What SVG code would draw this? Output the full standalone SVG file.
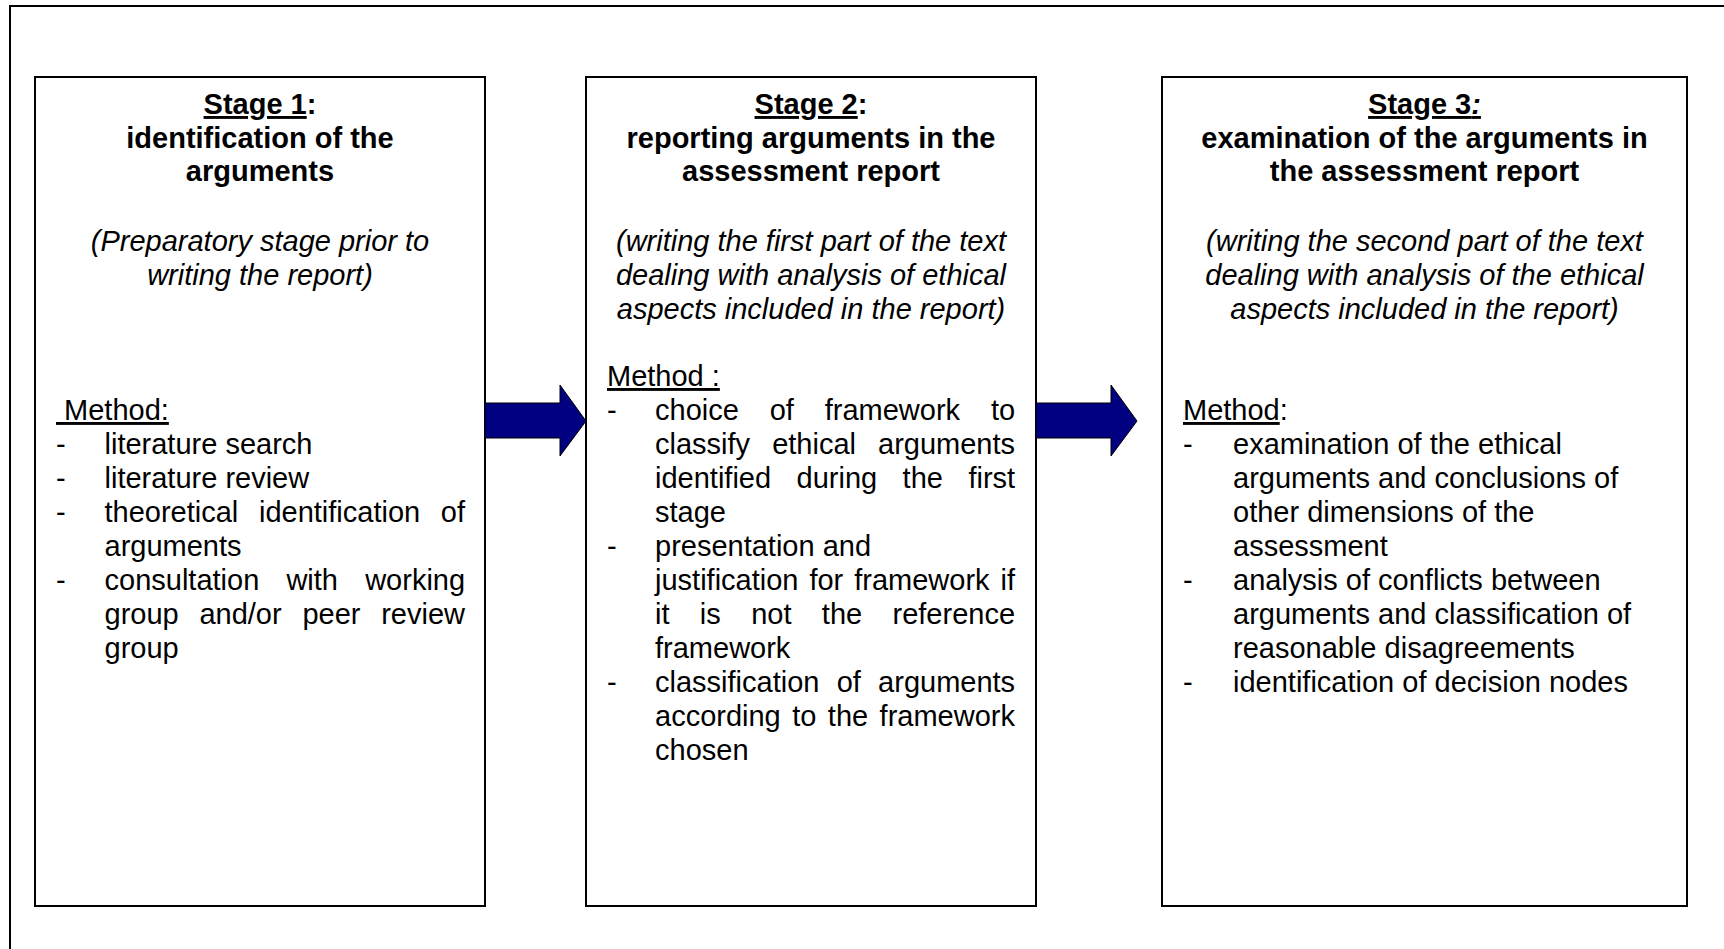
<svg xmlns="http://www.w3.org/2000/svg" width="1724" height="949" viewBox="0 0 1724 949">
<style>
  text { font-family: "Liberation Sans", Arial, sans-serif; font-size: 29px; fill: #000; }
  .title { font-weight: bold; text-anchor: middle; }
  .sub { font-style: italic; text-anchor: middle; }
  .u { text-decoration: underline; }
  .box { fill: #fff; stroke: #000; stroke-width: 2; }
  .frame { stroke: #000; stroke-width: 2; fill: none; }
  .arrow { fill: #000080; stroke: #000; stroke-width: 1; stroke-linejoin: miter; }
</style>
<rect x="0" y="0" width="1724" height="949" fill="#fff"/>
<g id="frame">
  <path class="frame" d="M10,949 L10,6 L1724,6"/>
</g>

<g id="stage1">
  <rect class="box" x="35" y="77" width="450" height="829"/>
  <text class="title" x="260" y="114"><tspan class="u">Stage 1</tspan>:</text>
  <text class="title" x="260" y="148">identification of the</text>
  <text class="title" x="260" y="181">arguments</text>
  <text class="sub" x="260" y="251">(Preparatory stage prior to</text>
  <text class="sub" x="260" y="285">writing the report)</text>
  <text x="56" y="420" xml:space="preserve"><tspan class="u"> Method:</tspan></text>
  <text x="56" y="454">-</text><text x="104.5" y="454">literature search</text>
  <text x="56" y="488">-</text><text x="104.5" y="488">literature review</text>
  <text x="56" y="522">-</text><text x="104.5" y="522" word-spacing="12.6">theoretical identification of</text>
  <text x="104.5" y="556">arguments</text>
  <text x="56" y="590">-</text><text x="104.5" y="590" word-spacing="19.1">consultation with working</text>
  <text x="104.5" y="624" word-spacing="12.7">group and/or peer review</text>
  <text x="104.5" y="658">group</text>
</g>

<g id="stage2">
  <rect class="box" x="586" y="77" width="450" height="829"/>
  <text class="title" x="811" y="114"><tspan class="u">Stage 2</tspan>:</text>
  <text class="title" x="811" y="148">reporting arguments in the</text>
  <text class="title" x="811" y="181">assessment report</text>
  <text class="sub" x="811" y="251">(writing the first part of the text</text>
  <text class="sub" x="811" y="285">dealing with analysis of ethical</text>
  <text class="sub" x="811" y="319">aspects included in the report)</text>
  <text x="607" y="386" xml:space="preserve"><tspan class="u">Method :</tspan></text>
  <text x="607" y="420">-</text><text x="655" y="420" word-spacing="22.8">choice of framework to</text>
  <text x="655" y="454" word-spacing="14">classify ethical arguments</text>
  <text x="655" y="488" word-spacing="17.4">identified during the first</text>
  <text x="655" y="522">stage</text>
  <text x="607" y="556">-</text><text x="655" y="556">presentation and</text>
  <text x="655" y="590" word-spacing="2.9">justification for framework if</text>
  <text x="655" y="624" word-spacing="22.3">it is not the reference</text>
  <text x="655" y="658">framework</text>
  <text x="607" y="692">-</text><text x="655" y="692" word-spacing="9.2">classification of arguments</text>
  <text x="655" y="726" word-spacing="3.4">according to the framework</text>
  <text x="655" y="760">chosen</text>
</g>

<g id="stage3">
  <rect class="box" x="1162" y="77" width="525" height="829"/>
  <text class="title" x="1424.5" y="114"><tspan class="u">Stage 3<tspan font-style="italic">:</tspan></tspan></text>
  <text class="title" x="1424.5" y="148">examination of the arguments in</text>
  <text class="title" x="1424.5" y="181">the assessment report</text>
  <text class="sub" x="1424.5" y="251">(writing the second part of the text</text>
  <text class="sub" x="1424.5" y="285">dealing with analysis of the ethical</text>
  <text class="sub" x="1424.5" y="319">aspects included in the report)</text>
  <text x="1183" y="420"><tspan class="u">Method</tspan>:</text>
  <text x="1183" y="454">-</text><text x="1233" y="454">examination of the ethical</text>
  <text x="1233" y="488">arguments and conclusions of</text>
  <text x="1233" y="522">other dimensions of the</text>
  <text x="1233" y="556">assessment</text>
  <text x="1183" y="590">-</text><text x="1233" y="590">analysis of conflicts between</text>
  <text x="1233" y="624">arguments and classification of</text>
  <text x="1233" y="658">reasonable disagreements</text>
  <text x="1183" y="692">-</text><text x="1233" y="692">identification of decision nodes</text>
</g>

<g id="connectors">
  <path class="arrow" d="M485,403 L560,403 L560,385 L586,421 L560,456 L560,438 L485,438 Z"/>
  <path class="arrow" d="M1036,403 L1111,403 L1111,385 L1137,421 L1111,456 L1111,438 L1036,438 Z"/>
</g>
</svg>
